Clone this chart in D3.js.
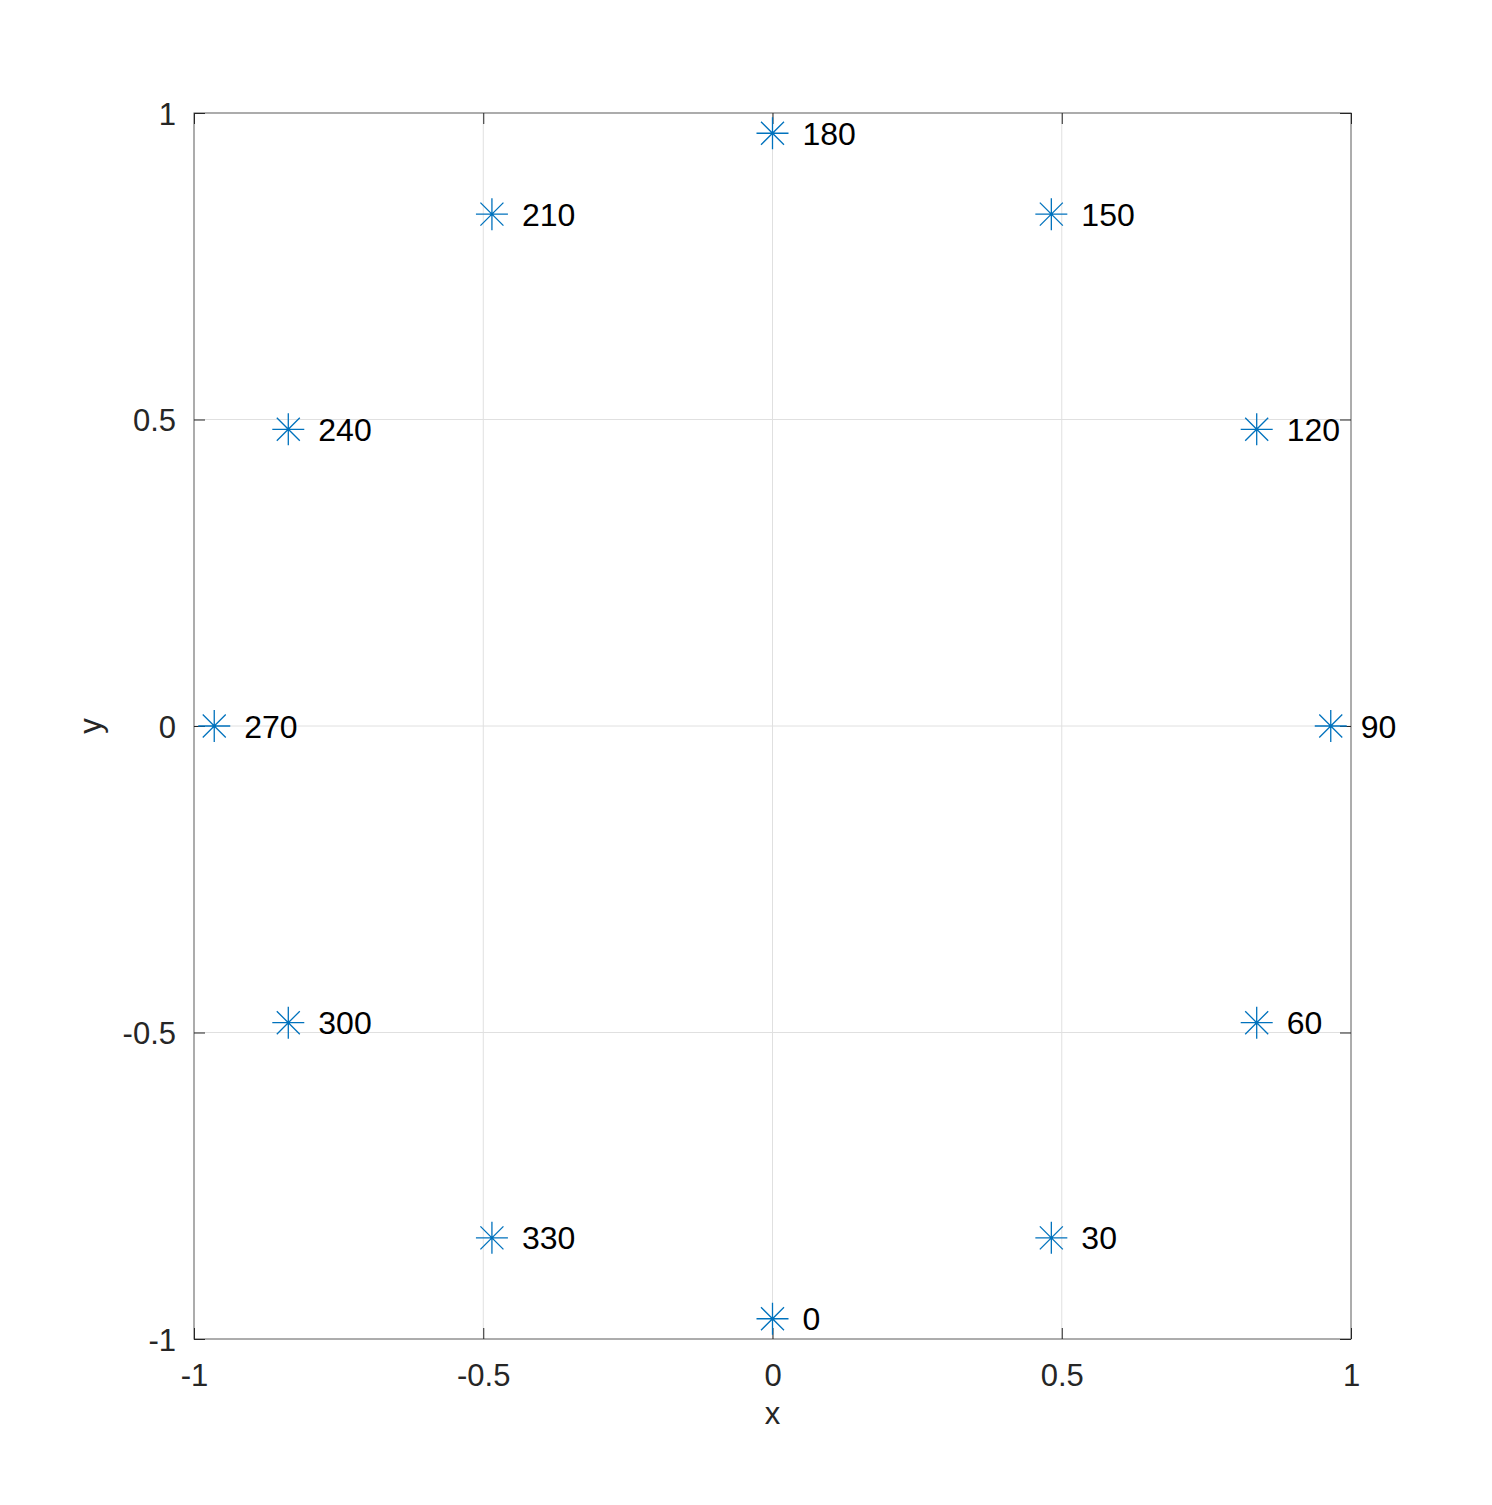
<!DOCTYPE html>
<html>
<head>
<meta charset="utf-8">
<script src="https://cdn.jsdelivr.net/npm/d3@7"></script>
<style>
  body { margin: 0; background: #fff; }
  text { font-family: "Liberation Sans", Arial, sans-serif; }
</style>
</head>
<body>
<div id="chart"></div>
<script>
// data
const angles = [0, 30, 60, 90, 120, 150, 180, 210, 240, 270, 300, 330]
const xValues = [0, 0.482, 0.837, 0.965, 0.837, 0.482, 0, -0.485, -0.837, -0.965, -0.837, -0.485]
const yValues = [-0.967, -0.835, -0.484, 0, 0.484, 0.835, 0.967, 0.835, 0.484, 0, -0.484, -0.835]
const xTicks = [-1, -0.5, 0, 0.5, 1]
const yTicks = [-1, -0.5, 0, 0.5, 1]

function drawChart() {
  const dataset = angles.map((a, i) => ({ angle: a, x: xValues[i], y: yValues[i] }))

  const dimensions = {
    width: 1492,
    height: 1505,
    margin: { top: 113, right: 141, bottom: 166, left: 194 },
  }
  dimensions.boundedWidth = dimensions.width - dimensions.margin.left - dimensions.margin.right
  dimensions.boundedHeight = dimensions.height - dimensions.margin.top - dimensions.margin.bottom

  const svg = d3.select("#chart").append("svg")
    .attr("width", dimensions.width)
    .attr("height", dimensions.height)

  const bounds = svg.append("g")
    .attr("transform", `translate(${dimensions.margin.left},${dimensions.margin.top})`)

  const xScale = d3.scaleLinear().domain([-1, 1]).range([0, dimensions.boundedWidth])
  const yScale = d3.scaleLinear().domain([-1, 1]).range([dimensions.boundedHeight, 0])

  // grid
  bounds.append("g")
    .selectAll("line")
    .data(xTicks.filter(t => t > -1 && t < 1))
    .join("line")
      .attr("x1", d => xScale(d)).attr("x2", d => xScale(d))
      .attr("y1", 0).attr("y2", dimensions.boundedHeight)
      .attr("stroke", "#e0e0e0")
  bounds.append("g")
    .selectAll("line")
    .data(yTicks.filter(t => t > -1 && t < 1))
    .join("line")
      .attr("y1", d => yScale(d)).attr("y2", d => yScale(d))
      .attr("x1", 0).attr("x2", dimensions.boundedWidth)
      .attr("stroke", "#e0e0e0")

  // box
  bounds.append("rect")
    .attr("width", dimensions.boundedWidth)
    .attr("height", dimensions.boundedHeight)
    .attr("fill", "none")
    .attr("stroke", "#5a5a5a")

  const tickSize = 11
  const fmt = d => String(d)

  const xAxis = bounds.append("g")
    .attr("transform", `translate(0,${dimensions.boundedHeight})`)
    .call(d3.axisBottom(xScale).tickValues(xTicks).tickSize(-tickSize).tickPadding(31)
      .tickFormat(fmt))
  const xTop = bounds.append("g")
    .call(d3.axisTop(xScale).tickValues(xTicks).tickSize(-tickSize).tickFormat(""))
  const yAxis = bounds.append("g")
    .call(d3.axisLeft(yScale).tickValues(yTicks).tickSize(-tickSize).tickPadding(18)
      .tickFormat(fmt))
  const yRight = bounds.append("g")
    .attr("transform", `translate(${dimensions.boundedWidth},0)`)
    .call(d3.axisRight(yScale).tickValues(yTicks).tickSize(-tickSize).tickFormat(""))

  ;[xAxis, xTop, yAxis, yRight].forEach(ax => {
    ax.select(".domain").remove()
    ax.selectAll(".tick line").attr("stroke", "#262626")
    ax.selectAll(".tick text")
      .attr("fill", "#262626")
      .style("font-size", "31px")
  })
  yAxis.selectAll(".tick text").attr("dy", "0.36em")
  xAxis.selectAll(".tick text").attr("dy", "0.5em")

  // axis labels
  bounds.append("text")
    .attr("x", dimensions.boundedWidth / 2)
    .attr("y", dimensions.boundedHeight + 85)
    .attr("text-anchor", "middle")
    .attr("fill", "#262626")
    .style("font-size", "31px")
    .text("x")
  bounds.append("text")
    .attr("transform", `translate(-93,${dimensions.boundedHeight / 2}) rotate(-90)`)
    .attr("text-anchor", "middle")
    .attr("fill", "#262626")
    .style("font-size", "31px")
    .text("y")

  // asterisk markers
  const arm = 16
  const diag = 11.5
  const markerPath = `M${-arm},0L${arm},0M0,${-arm}L0,${arm}` +
    `M${-diag},${-diag}L${diag},${diag}M${-diag},${diag}L${diag},${-diag}`

  const points = bounds.append("g")
    .selectAll("g")
    .data(dataset)
    .join("g")
      .attr("transform", d => `translate(${xScale(d.x)},${yScale(d.y)})`)

  points.append("path")
    .attr("d", markerPath)
    .attr("stroke", "#0072bd")
    .attr("stroke-width", 1.3)
    .attr("fill", "none")

  points.append("text")
    .attr("x", 30)
    .attr("dy", "0.36em")
    .attr("fill", "#000")
    .style("font-size", "32px")
    .text(d => d.angle)
}
drawChart()
</script>
</body>
</html>
